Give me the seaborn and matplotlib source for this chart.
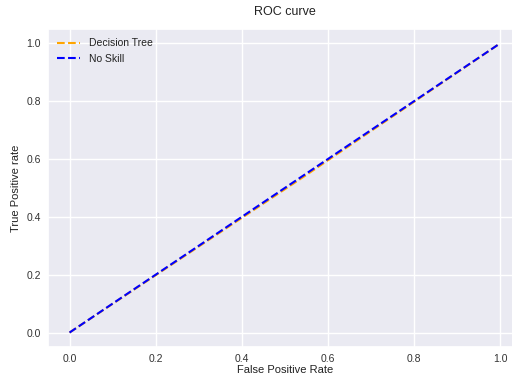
import matplotlib
matplotlib.use("Agg")
import matplotlib.pyplot as plt
import seaborn as sns
import pandas as pd

dt_fpr = [0.0, 0.55, 1.0]
dt_tpr = [0.0, 0.545, 1.0]
ns_fpr = [0.0, 1.0]
ns_tpr = [0.0, 1.0]

sns.set_theme(style="darkgrid")
plt.rcParams['font.family'] = ['Liberation Sans', 'DejaVu Sans']

fig = plt.figure(figsize=(5.12, 3.76), dpi=100)
ax = fig.add_axes([48/512, (376-347)/376, 473.5/512, 318/376])

df_dt = pd.DataFrame({"fpr": dt_fpr, "tpr": dt_tpr})
df_ns = pd.DataFrame({"fpr": ns_fpr, "tpr": ns_tpr})
sns.lineplot(data=df_dt, x="fpr", y="tpr", ax=ax, color="orange", linestyle="--",
             linewidth=1.5, label="Decision Tree", sort=False, estimator=None)
sns.lineplot(data=df_ns, x="fpr", y="tpr", ax=ax, color="blue", linestyle="--",
             linewidth=1.5, label="No Skill", sort=False, estimator=None)

ax.set_xlim(-0.05, 1.05)
ax.set_ylim(-0.05, 1.05)
ax.set_xticks([0, 0.2, 0.4, 0.6, 0.8, 1.0])
ax.set_yticks([0, 0.2, 0.4, 0.6, 0.8, 1.0])
ax.tick_params(labelsize=7.5, colors="#333333", length=0, pad=5)
ax.set_title("ROC curve", fontsize=9, color="#222222", pad=10)
ax.set_xlabel("False Positive Rate", fontsize=8, color="#222222", labelpad=1)
ax.set_ylabel("True Positive rate", fontsize=8, color="#222222", labelpad=4)
leg = ax.legend(loc="upper left", frameon=False, fontsize=7.5, handlelength=2.2,
                borderaxespad=0.5)
for t in leg.get_texts():
    t.set_color("#222222")

fig.savefig("out.png", dpi=100)
